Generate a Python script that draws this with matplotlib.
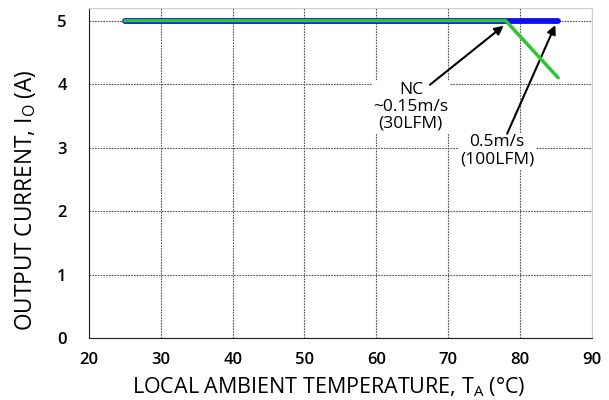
import numpy as np
import matplotlib.pyplot as plt

plt.rcParams['font.family'] = ['Open Sans', 'DejaVu Sans']
plt.rcParams['mathtext.fontset'] = 'custom'
plt.rcParams['mathtext.rm'] = 'Open Sans'

temp_nc = [25, 78, 85.3]
corr_nc = [5.0, 5.0, 4.1]
temp_05 = [25, 85.3]
corr_05 = [5.0, 5.0]

xticks = [20, 30, 40, 50, 60, 70, 80, 90]
yticks = [0, 1, 2, 3, 4, 5]

fig = plt.figure(figsize=(6.09, 4.0), dpi=100)
ax = fig.add_axes([0.146, 0.155, 0.826, 0.825])

ax.plot(temp_05, corr_05, color="#0a10f0", linewidth=4.2, solid_capstyle="round", zorder=3)
ax.plot(temp_nc, corr_nc, color="#2ec62e", linewidth=2.5, solid_capstyle="round", zorder=4)

ax.set_xlim(20, 90)
ax.set_ylim(0, 5.2)
ax.set_xticks(xticks)
ax.set_yticks(yticks)
ax.tick_params(length=0, labelsize=12)
ax.tick_params(axis="x", pad=10)
ax.tick_params(axis="y", pad=16)
for t in ax.get_xticklabels() + ax.get_yticklabels():
    t.set_fontweight("semibold")

ax.grid(True, color="#555555", linestyle=(0, (1.5, 1)), linewidth=0.8)
ax.set_axisbelow(True)
for s in ["top", "right"]:
    ax.spines[s].set_color("#cccccc")
for s in ["left", "bottom"]:
    ax.spines[s].set_color("#222222")

ax.set_xlabel("LOCAL AMBIENT TEMPERATURE, T$_\\mathregular{A}$ (°C)", fontsize=15.5)
ax.set_ylabel("OUTPUT CURRENT, I$_\\mathregular{O}$ (A)", fontsize=16.3)
ax.xaxis.set_label_coords(0.477, -0.112)
ax.yaxis.set_label_coords(-0.102, 0.418)

# textos de las flechas
ax.text(64.8, 3.64, "NC\n~0.15m/s\n(30LFM)", ha="center", va="center",
        fontsize=12.5, linespacing=1.05,
        bbox=dict(boxstyle="square,pad=0.1", fc="white", ec="none"))
ax.text(76.8, 2.95, "0.5m/s\n(100LFM)", ha="center", va="center",
        fontsize=12.5, linespacing=1.05,
        bbox=dict(boxstyle="square,pad=0.1", fc="white", ec="none"))

ax.annotate("", xy=(77.7, 4.92), xytext=(67.45, 3.99),
            arrowprops=dict(arrowstyle="-|>", color="black", lw=1.5, shrinkA=0, shrinkB=0,
                            mutation_scale=13))
ax.annotate("", xy=(84.9, 4.93), xytext=(78.2, 3.22),
            arrowprops=dict(arrowstyle="-|>", color="black", lw=1.5, shrinkA=0, shrinkB=0,
                            mutation_scale=13))

plt.savefig("out.png", dpi=100)
